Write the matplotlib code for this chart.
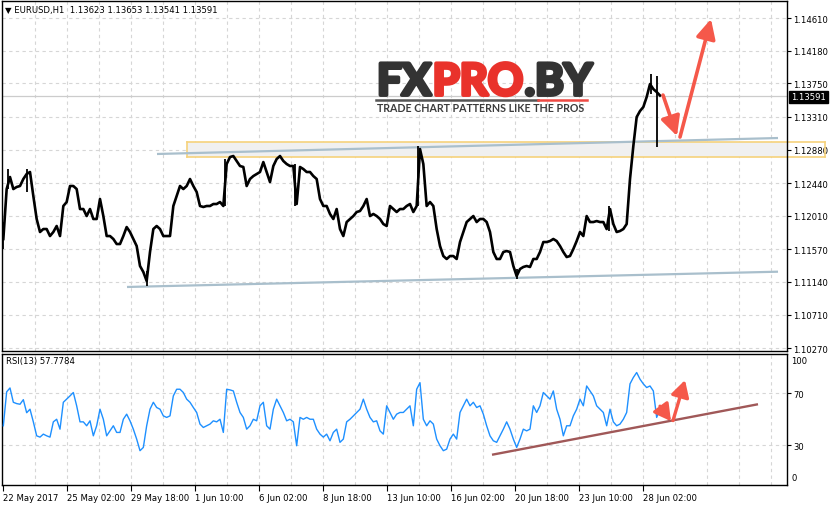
import numpy as np
import matplotlib
matplotlib.use('Agg')
import matplotlib.pyplot as plt
from matplotlib.patches import Rectangle
import matplotlib.patheffects as pe

# ---------------- data ----------------
close = [
 1.11704, 1.12361, 1.12519, 1.12361, 1.12388, 1.12401, 1.12493, 1.12559, 1.12585, 1.12269,
 1.11967, 1.11796, 1.11835, 1.11835, 1.11743, 1.11796, 1.11875, 1.11743, 1.12138, 1.12190,
 1.12401, 1.12401, 1.12361, 1.12098, 1.12098, 1.12006, 1.12098, 1.11967, 1.11967, 1.12230,
 1.12006, 1.11743, 1.11743, 1.11704, 1.11638, 1.11638, 1.11743, 1.11861, 1.11796, 1.11704,
 1.11612, 1.11349, 1.11270, 1.11152, 1.11533, 1.11835, 1.11875, 1.11835, 1.11743, 1.11743,
 1.11743, 1.12138, 1.12269, 1.12401, 1.12361, 1.12401, 1.12493, 1.12401, 1.12322, 1.12138,
 1.12125, 1.12138, 1.12138, 1.12164, 1.12164, 1.12190, 1.12138, 1.12690, 1.12782, 1.12795,
 1.12730, 1.12664, 1.12651, 1.12401, 1.12493, 1.12532, 1.12559, 1.12585, 1.12716, 1.12585,
 1.12453, 1.12664, 1.12756, 1.12795, 1.12730, 1.12690, 1.12664, 1.12664, 1.12164, 1.12651,
 1.12624, 1.12585, 1.12585, 1.12532, 1.12493, 1.12230, 1.12138, 1.12138, 1.12033, 1.11967,
 1.12098, 1.11835, 1.11743, 1.11927, 1.11967, 1.12006, 1.12059, 1.12072, 1.12138, 1.12230,
 1.12006, 1.12033, 1.12006, 1.11967, 1.11901, 1.11875, 1.12138, 1.12098, 1.12059, 1.12098,
 1.12098, 1.12138, 1.12164, 1.12059, 1.12138, 1.12887, 1.12690, 1.12138, 1.12190, 1.12138,
 1.11835, 1.11612, 1.11480, 1.11441, 1.11480, 1.11480, 1.11441, 1.11664, 1.11796, 1.11927,
 1.11967, 1.12006, 1.11927, 1.11967, 1.11967, 1.11927, 1.11796, 1.11533, 1.11441, 1.11441,
 1.11533, 1.11546, 1.11533, 1.11349, 1.11217, 1.11309, 1.11336, 1.11349, 1.11336, 1.11441,
 1.11441, 1.11533, 1.11664, 1.11664, 1.11677, 1.11704, 1.11677, 1.11612, 1.11533, 1.11467,
 1.11480, 1.11572, 1.11677, 1.11796, 1.11743, 1.12006, 1.11927, 1.11927, 1.11940, 1.11927,
 1.11927, 1.11835, 1.12098, 1.11901, 1.11796, 1.11809, 1.11835, 1.11901, 1.12493, 1.12927,
 1.13308, 1.13387, 1.13440, 1.13571, 1.13742, 1.13676, 1.13637, 1.13591,
]

rsi = [
 45, 71, 74, 63, 62, 61.5, 65, 55, 57.7, 48,
 37.3, 36.3, 38.6, 37.3, 36.3, 48, 50, 42.4, 63, 65.4,
 67.9, 70.5, 60.3, 48, 48, 45, 48.8, 37.3, 45, 57.7,
 50, 37.3, 41.1, 45, 39.9, 39.9, 50, 53.9, 48.8, 42.4,
 34.8, 25.9, 28.4, 45, 57.7, 63, 59, 57.7, 52.6, 51.4,
 52.6, 67.9, 73, 73, 70.5, 65.4, 63, 59, 55.2, 46.3,
 43.7, 45, 46.3, 48.8, 48, 50, 39.9, 73, 72.5, 71.7,
 63, 55.2, 51.4, 42.4, 45, 50, 48.8, 60.3, 63, 45,
 42.4, 57.7, 65.4, 60.3, 55.2, 48.8, 50, 48, 29.7, 51.4,
 50, 51.4, 50, 50, 42.4, 38.6, 36.3, 38.6, 33.5, 39.9,
 42.4, 32.3, 34.8, 48, 50, 52.6, 55.2, 57.7, 65.4, 57.7,
 51.4, 48, 48.8, 41.1, 38.6, 60.3, 55.2, 50, 53.9, 55.2,
 55.2, 57.7, 60.3, 45, 73, 78, 50, 45, 48.8, 46.3,
 34.8, 29.7, 25.9, 27.1, 34.8, 38.6, 34.8, 55.2, 60.3, 65.4,
 60.3, 63, 59, 60.3, 53.9, 45, 37.3, 33.5, 32.3, 37.3,
 42.4, 48, 42.4, 34.8, 28.4, 34.8, 42.4, 41.1, 42.4, 60.3,
 55.2, 60.3, 70.5, 67.9, 65.4, 71.7, 57.7, 50, 37.3, 45,
 45, 52.6, 57.7, 65.4, 60.3, 75.5, 71.7, 67.9, 60.3, 57.7,
 55.2, 45, 57.7, 48, 45, 46.3, 50, 55.2, 77.1, 82,
 85.8, 80.7, 77.1, 74.3, 75.5, 71.7, 51.4, 57.8,
]

# bar extremes (wicks): bar index, low, high
wick_bar = [0, 5, 24, 144, 222, 292, 415, 514, 606, 648, 654]
wick_lo = [1.11572, 1.12361, 1.12322, 1.11086, 1.12138, 1.12138, 1.12138, 1.11178, 1.11809, 1.13611, 1.12914]
wick_hi = [1.11927, 1.12624, 1.12624, 1.11283, 1.12756, 1.12690, 1.12927, 1.11309, 1.12138, 1.13874, 1.13847]

sample_step = 10 / 3  # hours (bars) between samples
bars = np.arange(1, len(close) + 1) * sample_step - 3

price_ticks = [1.10270, 1.10710, 1.11140, 1.11570, 1.12010, 1.12440,
               1.12880, 1.13310, 1.13750, 1.14180, 1.14610]
time_tick_bars = [0, 64, 128, 192, 256, 320, 384, 448, 512, 576, 640]
time_tick_labels = ['22 May 2017', '25 May 02:00', '29 May 18:00', '1 Jun 10:00',
                    '6 Jun 02:00', '8 Jun 18:00', '13 Jun 10:00', '16 Jun 02:00',
                    '20 Jun 18:00', '23 Jun 10:00', '28 Jun 02:00']

last_price = 1.13591
header = '\u25BC EURUSD,H1  1.13623 1.13653 1.13541 1.13591'
rsi_label = 'RSI(13) 57.7784'

# trend objects (bar, price)
upper_line = ([154, 775], [1.12822, 1.13032])
lower_line = ([124, 775], [1.11073, 1.11274])
zone = (184, 1.12785, 1.12975)
arrow_down = ((660, 1.13597), (674, 1.13058))
arrow_up = ((677, 1.13045), (708, 1.14597))
rsi_line = ([489, 755], [22.8, 61.5])
rsi_arrow_down = ((657, 60.0), (668, 48.5))
rsi_arrow_up = ((670, 49.0), (682, 80.0))

# ---------------- figure ----------------
W, H = 830, 506
fig = plt.figure(figsize=(W / 100, H / 100), dpi=100)
fig.patch.set_facecolor('white')


def fx(x):
    return x / W


def fy(y):
    return 1 - y / H


ax = fig.add_axes([fx(2), fy(352), (787 - 2) / W, (352 - 2) / H])
ax2 = fig.add_axes([fx(2), fy(485.5), (787 - 2) / W, (485.5 - 355) / H])

XMIN, XMAX = -1, 784
GRID = dict(color='#d6d6d6', lw=0.8, ls=(0, (3, 3)), zorder=0)
FS = 6.1
FAM = ['DejaVu Sans']
RED = '#f5584a'
plt.rcParams['font.family'] = FAM

for a in (ax, ax2):
    a.set_xlim(XMIN, XMAX)
    for s in a.spines.values():
        s.set_color('black')
        s.set_linewidth(1.0)
    for b in range(32, 784, 32):
        a.axvline(b, **GRID)

# main panel
ax.set_ylim(1.10231, 1.14834)
for p in price_ticks:
    ax.axhline(p, **GRID)
ax.yaxis.tick_right()
ax.set_yticks(price_ticks)
ax.set_yticklabels(['%.5f' % p for p in price_ticks])
ax.tick_params(axis='y', direction='out', length=3, width=0.8, pad=1.5, labelsize=FS, colors='black')
ax.set_xticks([])

# zone rectangle
zb, zlo, zhi = zone
ax.add_patch(Rectangle((zb, zlo), XMAX - zb, zhi - zlo, facecolor='#f0f0f0', edgecolor='none', zorder=1))
for yv in (zlo, zhi):
    ax.plot([zb, 822], [yv, yv], color='#f6d27c', lw=1.2, zorder=2, clip_on=False)
ax.plot([zb, zb], [zlo, zhi], color='#f6d27c', lw=1.2, zorder=2)
ax.plot([822, 822], [zlo, zhi], color='#f6d27c', lw=1.2, zorder=2, clip_on=False)

# bid line
ax.axhline(last_price, color='#cccccc', lw=0.9, zorder=1)

# trend lines
ax.plot(*upper_line, color='#a9bfcc', lw=1.6, zorder=3, solid_capstyle='butt')
ax.plot(*lower_line, color='#a9bfcc', lw=1.6, zorder=3, solid_capstyle='butt')

# price
ax.plot(bars, close, color='black', lw=1.9, zorder=5)
ax.vlines(wick_bar, wick_lo, wick_hi, color='black', lw=1.3, zorder=5)

# arrows
arrow_kw = dict(arrowstyle='-|>,head_length=0.9,head_width=0.45', color=RED, lw=2.6,
                mutation_scale=13, shrinkA=0, shrinkB=0)
for st, tp in (arrow_down, arrow_up):
    ax.annotate('', xy=tp, xytext=st, arrowprops=arrow_kw, annotation_clip=False, zorder=6)

# RSI panel
ax2.set_ylim(0, 100)
for v in (70, 30):
    ax2.axhline(v, **GRID)
ax2.yaxis.tick_right()
ax2.set_yticks([30, 70])
ax2.set_yticklabels(['30', '70'])
ax2.tick_params(axis='y', direction='out', length=3, width=0.8, pad=1.5, labelsize=FS, colors='black')
ax2.set_xticks(time_tick_bars)
ax2.set_xticklabels(time_tick_labels)
ax2.tick_params(axis='x', direction='out', length=4, width=0.8, pad=2, labelsize=FS, colors='black')
for lbl in ax2.get_xticklabels():
    lbl.set_ha('left')

ax2.plot(bars, rsi, color='#1e90ff', lw=1.0, zorder=5)
ax2.plot(*rsi_line, color='#a05858', lw=1.7, zorder=4, solid_capstyle='butt')
arrow_kw2 = dict(arrowstyle='-|>,head_length=0.9,head_width=0.5', color=RED, lw=2.4,
                 mutation_scale=11, shrinkA=0, shrinkB=0)
for st, tp in (rsi_arrow_down, rsi_arrow_up):
    ax2.annotate('', xy=tp, xytext=st, arrowprops=arrow_kw2, annotation_clip=False, zorder=6)

fig.text(fx(791), fy(362), '100', fontsize=FS, va='center', ha='left')
fig.text(fx(791), fy(479), '0', fontsize=FS, va='center', ha='left')

# texts
fig.text(fx(5), fy(10), header, fontsize=FS, va='center', ha='left')
fig.text(fx(6), fy(362), rsi_label, fontsize=FS, va='center', ha='left')
fig.text(fx(791), fy(98), '%.5f' % last_price, fontsize=FS, va='center', ha='left', color='white',
         bbox=dict(boxstyle='square,pad=0.2', facecolor='black', edgecolor='black'))

# logo
r = fig.canvas.get_renderer()
LFS = 31.5
xcur = 377
for part, col in (('FX', '#333333'), ('PRO', '#e9322b'), ('.BY', '#333333')):
    t = fig.text(fx(xcur), fy(96), part, fontsize=LFS, fontweight='bold', family=['Lato', 'DejaVu Sans'],
                 color=col, va='baseline', ha='left',
                 path_effects=[pe.withStroke(linewidth=2.8, foreground=col)])
    bb = t.get_window_extent(r)
    xcur = bb.x1 + 1.5
fig.add_artist(plt.Line2D([fx(376), fx(538)], [fy(100.5), fy(100.5)], color='#555555', lw=1.8))
fig.add_artist(plt.Line2D([fx(538), fx(587)], [fy(100.5), fy(100.5)], color='#ee4a44', lw=1.8))
fig.text(fx(377), fy(108.5), 'TRADE CHART PATTERNS LIKE THE PROS', fontsize=7.7, fontweight='bold',
         family=['Lato', 'DejaVu Sans'], color='#3c3c3c', va='center', ha='left')

fig.savefig('out.png', dpi=100)
